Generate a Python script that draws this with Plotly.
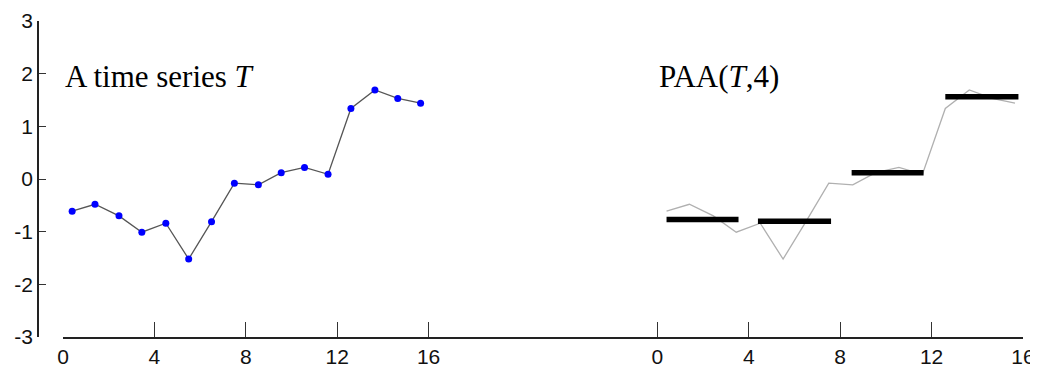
import plotly.graph_objects as go

# ---- data ----
t_index = [0.4, 1.4, 2.45, 3.45, 4.5, 5.5, 6.5, 7.5, 8.55, 9.55, 10.57, 11.6, 12.6, 13.65, 14.65, 15.65]
t_values = [-0.61, -0.48, -0.70, -1.01, -0.84, -1.52, -0.81, -0.08, -0.11, 0.12, 0.22, 0.09, 1.34, 1.69, 1.53, 1.44]
paa_start = [0.4, 4.4, 8.5, 12.6]
paa_end = [3.55, 7.6, 11.65, 15.8]
paa_values = [-0.77, -0.80, 0.12, 1.56]
x_ticks = [0, 4, 8, 12, 16]
y_ticks = [-3, -2, -1, 0, 1, 2, 3]

# page has an 8px body margin, so the figure is drawn at (8, 8)
OFF = 8
W, H = 1038 - OFF, 368 - OFF
# layout constants (reference pixels, converted to figure pixels)
PX_PER_UNIT = 22.85
LEFT_X0 = 63 - OFF
SPLIT = 540 - OFF
RIGHT_X16 = 1023 - OFF
Y_AXIS_X = 38 - OFF
Y_TOP, Y_BOT = 21 - OFF, 337 - OFF

fig = go.Figure()

# left panel: time series with markers
fig.add_trace(go.Scatter(
    x=t_index, y=t_values, mode="lines+markers",
    line=dict(color="#555555", width=1.3),
    marker=dict(color="#0000ff", size=7),
    xaxis="x", yaxis="y", showlegend=False, hoverinfo="skip"))

# right panel: faint series
fig.add_trace(go.Scatter(
    x=t_index, y=t_values, mode="lines",
    line=dict(color="#b0b0b0", width=1.3),
    xaxis="x2", yaxis="y", showlegend=False, hoverinfo="skip"))

# right panel: PAA segments
for s, e, v in zip(paa_start, paa_end, paa_values):
    fig.add_trace(go.Scatter(
        x=[s, e], y=[v, v], mode="lines",
        line=dict(color="#000000", width=5.5),
        xaxis="x2", yaxis="y", showlegend=False, hoverinfo="skip"))

axis_font = dict(family="Liberation Sans, Arial, sans-serif", size=21, color="#111111")

xcommon = dict(
    showline=True, linecolor="#222222", linewidth=1.5,
    ticks="inside", ticklen=15, tickwidth=1.3, tickcolor="#333333",
    tickvals=x_ticks, ticktext=[str(v) for v in x_ticks],
    tickfont=axis_font, showgrid=False, zeroline=False,
    anchor="y", automargin=False, fixedrange=True,
)

left_hi = (SPLIT - LEFT_X0) / PX_PER_UNIT
right_lo = 16 - (RIGHT_X16 - SPLIT) / PX_PER_UNIT

fig.update_layout(
    width=W, height=H,
    margin=dict(l=0, r=0, t=0, b=0),
    paper_bgcolor="white", plot_bgcolor="white",
    xaxis=dict(domain=[LEFT_X0 / W, SPLIT / W], range=[0, left_hi], **xcommon),
    xaxis2=dict(domain=[SPLIT / W, RIGHT_X16 / W], range=[right_lo, 16], **xcommon),
    yaxis=dict(
        domain=[1 - Y_BOT / H, 1 - Y_TOP / H], range=[-3, 3],
        anchor="free", position=Y_AXIS_X / W,
        showline=True, linecolor="#222222", linewidth=1.5,
        ticks="inside", ticklen=7, tickwidth=1.3, tickcolor="#333333",
        tickvals=y_ticks, ticktext=[str(v) for v in y_ticks],
        tickfont=axis_font, showgrid=False, zeroline=False,
        automargin=False, fixedrange=True,
    ),
    annotations=[
        dict(text="A time series <i>T</i>", xref="x", yref="y", x=0, y=1.95,
             xanchor="left", yanchor="middle", showarrow=False,
             font=dict(family="Liberation Serif, Times New Roman, serif", size=31, color="#000000")),
        dict(text="PAA(<i>T</i>,4)", xref="x2", yref="y", x=0, y=1.95,
             xanchor="left", yanchor="middle", showarrow=False,
             font=dict(family="Liberation Serif, Times New Roman, serif", size=31, color="#000000")),
    ],
)

fig.write_html("out.html")
